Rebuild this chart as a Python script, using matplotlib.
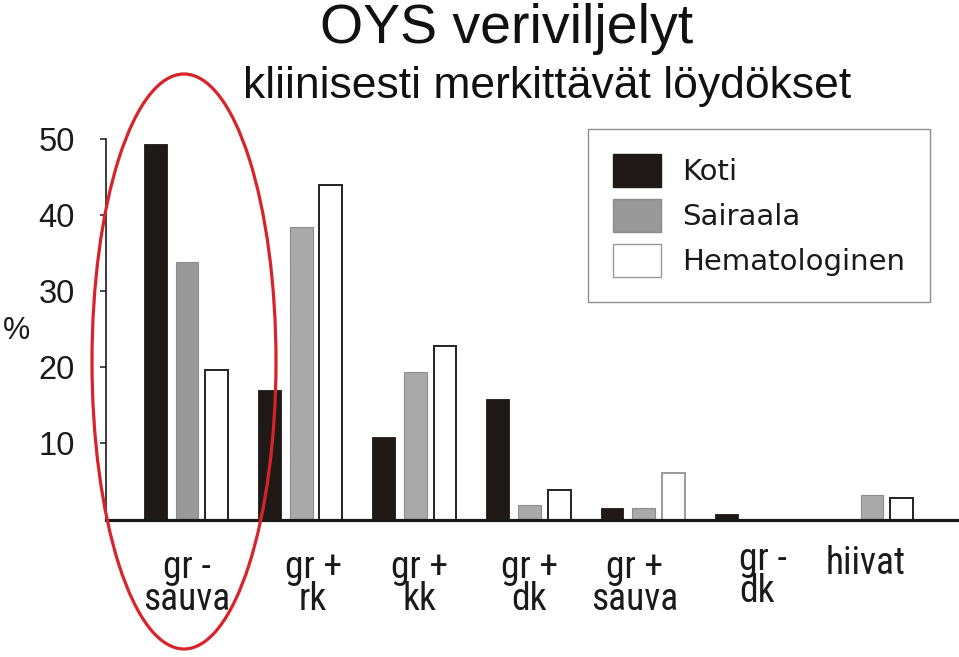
import matplotlib
matplotlib.use('Agg')
import matplotlib.pyplot as plt
from matplotlib import font_manager
from matplotlib.patches import Patch, Ellipse
from matplotlib.transforms import ScaledTranslation
import numpy as np

# ---------------- data ----------------
categories = ["gr -\nsauva", "gr +\nrk", "gr +\nkk", "gr +\ndk",
              "gr +\nsauva", "gr -\ndk", "hiivat"]
series = ["Koti", "Sairaala", "Hematologinen"]
koti = [49.3, 17.0, 10.8, 15.8, 1.5, 0.7, 0.0]
sairaala = [33.8, 38.4, 19.4, 1.9, 1.5, 0.0, 3.2]
hema = [19.6, 43.9, 22.8, 3.9, 6.1, 0.0, 2.8]
yticks = [10, 20, 30, 40, 50]
title = "OYS veriviljelyt"
subtitle = "kliinisesti merkittävät löydökset"
ylabel = "%"

# ---------------- style ----------------
names = {f.name for f in font_manager.fontManager.ttflist}
narrow, narrow_size = 'Liberation Sans', 25
for cand in ['Liberation Sans Narrow', 'Roboto Condensed', 'Open Sans Condensed']:
    if cand in names:
        narrow, narrow_size = cand, 27
        break
plt.rcParams['font.family'] = ['Liberation Sans', 'DejaVu Sans']

W, H = 959, 657
fig = plt.figure(figsize=(W / 100, H / 100), dpi=100)
fig.patch.set_facecolor('white')

x0, x1 = 106, 957
y0, y1 = 519.5, 139
ax = fig.add_axes([x0 / W, (H - y0) / H, (x1 - x0) / W, (y0 - y1) / H])

KOTI = '#1f1a17'
x = np.arange(len(categories))
bw = 0.2
off = [-0.277, 0.0, 0.26]

sair_face = ['#999999'] + ['#a9a9a9'] * (len(categories) - 1)
hema_edge = ['#222222', '#222222', '#222222', '#222222', '#9a9a9a', '#222222', '#222222']

ax.bar(x + off[0], koti, width=bw, color=KOTI, edgecolor=KOTI, linewidth=0.6)
ax.bar(x + off[1], sairaala, width=bw, color=sair_face, edgecolor='#8c8c8c', linewidth=0.8)
ax.bar(x + off[2], hema, width=bw, color='white', edgecolor=hema_edge, linewidth=1.4)

ax.set_xlim(-0.709, 6.744)
ax.set_ylim(0, 50)
ax.set_yticks(yticks)
ax.set_xticks([])
for s in ['top', 'right']:
    ax.spines[s].set_visible(False)
ax.spines['bottom'].set_linewidth(2.3)
ax.spines['bottom'].set_color('#1a1a1a')
ax.spines['left'].set_linewidth(1.2)
ax.spines['left'].set_color('#1a1a1a')
ax.tick_params(axis='y', direction='out', length=4, width=1.1, pad=18.4,
               labelsize=23.5, colors='#1a1a1a')
for lbl in ax.get_yticklabels():
    lbl.set_fontfamily('Liberation Sans')
    lbl.set_color('#1a1a1a')

# category labels (placed slightly irregularly as in original)
label_dx = [0, 12, 4, 0, -9, 5, -6]      # pixels
label_dy = [0, 0, 0, 0, 0, -8, -4]       # pixels, positive = down
label_align = ['center'] * 5 + ['left', 'center']
for i, lab in enumerate(categories):
    tr = ax.get_xaxis_transform() + ScaledTranslation(
        label_dx[i] / 100, -(29 + label_dy[i]) / 100, fig.dpi_scale_trans)
    ax.text(x[i], 0, lab, transform=tr, ha='center', va='top',
            multialignment=label_align[i], fontsize=narrow_size, family=narrow,
            linespacing=0.86, color='#1a1a1a')

# titles and y label
fig.text(506.5 / W, 1 - 43 / H, title, ha='center', va='baseline',
         fontsize=40, color='#111111')
fig.text(547 / W, 1 - 98 / H, subtitle, ha='center', va='baseline',
         fontsize=32, color='#111111')
fig.text(17 / W, 1 - 331 / H, ylabel, ha='center', va='center',
         fontsize=22, color='#1a1a1a')

# legend
handles = [Patch(facecolor=KOTI, edgecolor=KOTI),
           Patch(facecolor='#999999', edgecolor='#8c8c8c'),
           Patch(facecolor='white', edgecolor='#9a9a9a')]
leg = ax.legend(handles, series, loc='upper left',
                bbox_to_anchor=(588 / W, 1 - 129 / H), bbox_transform=fig.transFigure,
                borderaxespad=0, frameon=True, fancybox=False, framealpha=1,
                edgecolor='#8f8f8f', prop={'family': 'DejaVu Sans', 'size': 21},
                handlelength=1.65, handleheight=1.35, handletextpad=0.72,
                labelspacing=0.42, borderpad=0.86)
leg.get_frame().set_linewidth(1.0)
for t in leg.get_texts():
    t.set_color('#1a1a1a')

# red highlight ellipse
fig.add_artist(Ellipse((184 / W, 1 - 361.5 / H), 184 / W, 575 / H,
                       transform=fig.transFigure, fill=False,
                       edgecolor='#d8232a', linewidth=2.3, zorder=10))

fig.savefig('out.png', dpi=100, facecolor='white')
